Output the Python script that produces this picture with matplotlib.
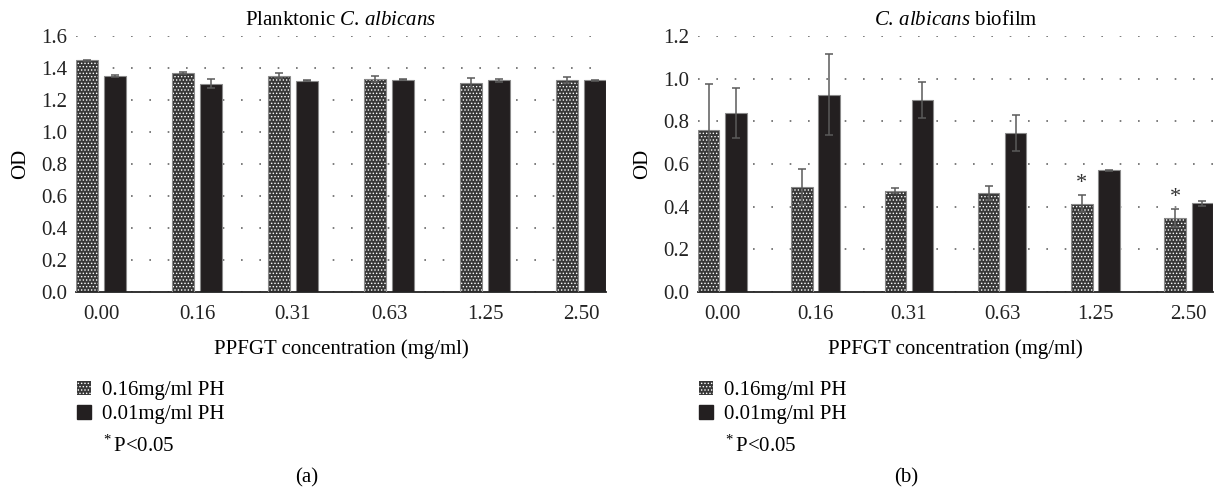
import matplotlib
matplotlib.use("Agg")
import matplotlib.pyplot as plt
import numpy as np
from matplotlib.patches import Patch

plt.rcParams['font.family'] = ['Liberation Serif', 'DejaVu Serif']
plt.rcParams['mathtext.fontset'] = 'custom'
plt.rcParams['mathtext.rm'] = 'Liberation Serif'
plt.rcParams['mathtext.it'] = 'Liberation Serif:italic'
plt.rcParams['hatch.linewidth'] = 0.6

categories = ["0.00", "0.16", "0.31", "0.63", "1.25", "2.50"]
series_names = ["0.16mg/ml PH", "0.01mg/ml PH"]

plank_high = [1.448, 1.370, 1.351, 1.331, 1.307, 1.326]
plank_high_err = [0.005, 0.005, 0.016, 0.016, 0.030, 0.020]
plank_low = [1.349, 1.301, 1.320, 1.326, 1.322, 1.324]
plank_low_err = [0.008, 0.029, 0.003, 0.004, 0.010, 0.003]

bio_high = [0.761, 0.493, 0.475, 0.464, 0.414, 0.347]
bio_high_err = [0.212, 0.084, 0.012, 0.032, 0.040, 0.043]
bio_low = [0.839, 0.925, 0.899, 0.744, 0.571, 0.416]
bio_low_err = [0.116, 0.190, 0.085, 0.085, 0.003, 0.011]
bio_sig = [False, False, False, False, True, True]

W, H = 1215, 494
fig = plt.figure(figsize=(W / 100, H / 100), dpi=100)

PAT_FACE = '#383838'
DARK_FACE = '#231f20'
EDGE = '#8a8a8a'
ERR = '#5a5a5a'
FS = 15
HATCH = '.....'


def panel(rect, hi, hi_err, lo, lo_err, ymax, title, sig=None):
    ax = fig.add_axes(rect)
    x = np.arange(len(categories))
    w = 0.23
    off = 0.145
    ax.set_axisbelow(True)
    ax.bar(x - off, hi, w, color=PAT_FACE, edgecolor='white', hatch=HATCH, linewidth=0, zorder=2)
    ax.bar(x - off, hi, w, fill=False, edgecolor=EDGE, linewidth=0.8, zorder=3)
    ax.bar(x + off, lo, w, color=DARK_FACE, edgecolor=EDGE, linewidth=0.8, zorder=2)
    ax.errorbar(x - off, hi, yerr=hi_err, fmt='none', ecolor=ERR, elinewidth=1.1, capsize=3, capthick=1.1, zorder=4)
    ax.errorbar(x + off, lo, yerr=lo_err, fmt='none', ecolor=ERR, elinewidth=1.1, capsize=3, capthick=1.1, zorder=4)
    if sig is not None:
        for xi, s, v, e in zip(x, sig, hi, hi_err):
            if s:
                ax.text(xi - off, v + e + 0.01, '*', ha='center', va='bottom', fontsize=16, color='#333333')
    ax.set_xlim(-off - w / 2, len(categories) - 1 + off + w / 2)
    ax.set_ylim(0, ymax)
    ticks = np.arange(0, ymax + 0.001, 0.2)
    ax.set_yticks(ticks)
    ax.set_yticklabels([f"{t:.1f}" for t in ticks])
    ax.set_xticks(x)
    ax.set_xticklabels(categories)
    ax.tick_params(axis='both', length=0, labelsize=FS, colors='#222222')
    ax.tick_params(axis='x', pad=9)
    ax.tick_params(axis='y', pad=6.5)
    ax.yaxis.grid(True, linestyle=(0, (1, 10)), color='#666666', linewidth=1.2)
    for s in ['top', 'right', 'left']:
        ax.spines[s].set_visible(False)
    ax.spines['bottom'].set_color('#222222')
    ax.spines['bottom'].set_linewidth(1.3)
    ax.set_ylabel('OD', fontsize=FS, labelpad=8)
    ax.set_xlabel('PPFGT concentration (mg/ml)', fontsize=FS, labelpad=11)
    ax.set_title(title, fontsize=FS, pad=8)
    return ax


ax1 = panel([76 / W, 1 - 292 / H, 530 / W, 256 / H], plank_high, plank_high_err,
            plank_low, plank_low_err, 1.6, r"Planktonic $\mathit{C.\,albicans}$")
ax2 = panel([698 / W, 1 - 292 / H, 515 / W, 256 / H], bio_high, bio_high_err,
            bio_low, bio_low_err, 1.2, r"$\mathit{C.\,albicans}$ biofilm", sig=bio_sig)

for xleft in [77, 699]:
    handles = [Patch(facecolor=PAT_FACE, edgecolor='white', hatch=HATCH, linewidth=0),
               Patch(facecolor=DARK_FACE, edgecolor=DARK_FACE)]
    fig.legend(handles, series_names, loc='upper left', bbox_to_anchor=(xleft / W, 1 - 381 / H),
               frameon=False, fontsize=FS, handlelength=0.67, handleheight=0.67,
               handletextpad=0.55, labelspacing=0.22, borderpad=0, borderaxespad=0)
    fig.text((xleft + 26) / W, 1 - 446 / H, r"$^{*}\,$P<0.05", fontsize=FS, va='center', ha='left')

fig.text(307 / W, 1 - 478 / H, '(a)', fontsize=FS, ha='center', va='center')
fig.text(906 / W, 1 - 478 / H, '(b)', fontsize=FS, ha='center', va='center')

fig.savefig('out.png', dpi=100)
